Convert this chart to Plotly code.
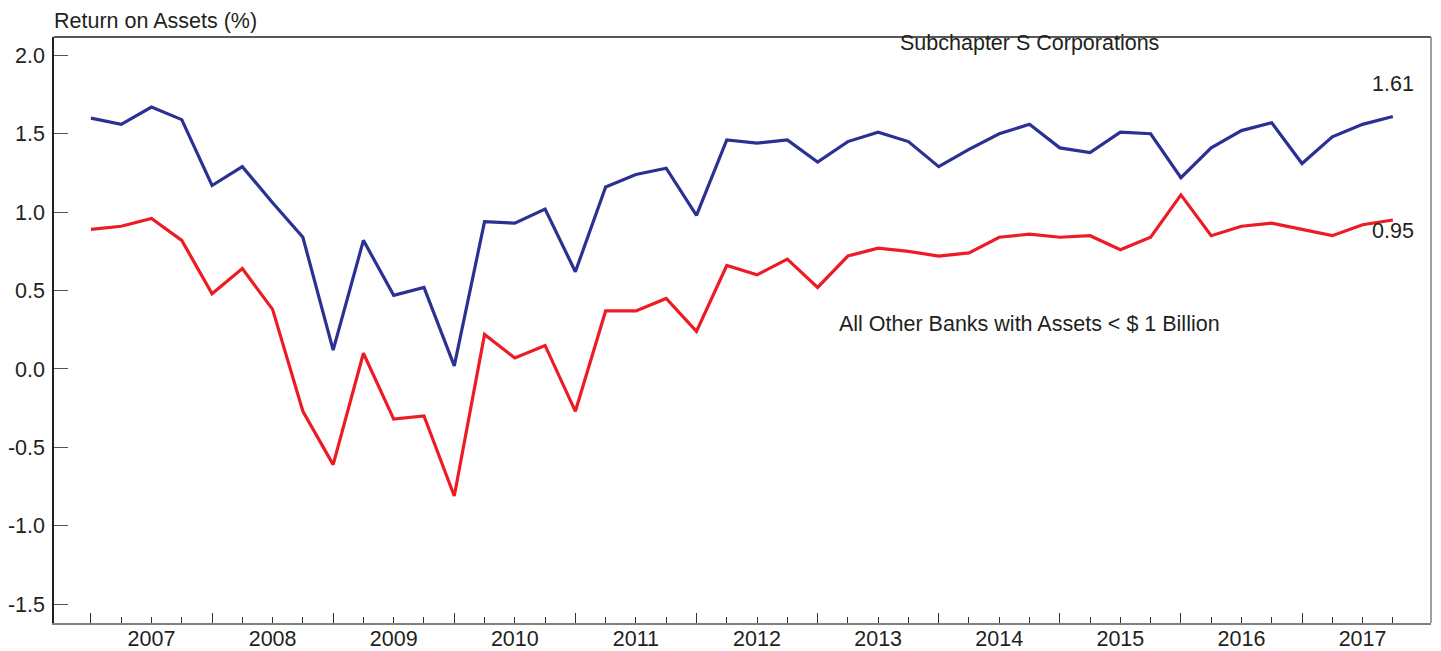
import plotly.graph_objects as go

years = list(range(2007, 2018))
quarters = [f"{y}Q{q}" for y in years for q in range(1, 5)]

s_corp_roa = [1.60, 1.56, 1.67, 1.59, 1.17, 1.29, 1.06, 0.84, 0.12, 0.82, 0.47,
              0.52, 0.02, 0.94, 0.93, 1.02, 0.62, 1.16, 1.24, 1.28, 0.98, 1.46,
              1.44, 1.46, 1.32, 1.45, 1.51, 1.45, 1.29, 1.40, 1.50, 1.56, 1.41,
              1.38, 1.51, 1.50, 1.22, 1.41, 1.52, 1.57, 1.31, 1.48, 1.56, 1.61]

other_roa = [0.89, 0.91, 0.96, 0.82, 0.48, 0.64, 0.38, -0.27, -0.61, 0.10, -0.32,
             -0.30, -0.81, 0.22, 0.07, 0.15, -0.27, 0.37, 0.37, 0.45, 0.24, 0.66,
             0.60, 0.70, 0.52, 0.72, 0.77, 0.75, 0.72, 0.74, 0.84, 0.86, 0.84,
             0.85, 0.76, 0.84, 1.11, 0.85, 0.91, 0.93, 0.89, 0.85, 0.92, 0.95]

y_ticks = [2.0, 1.5, 1.0, 0.5, 0.0, -0.5, -1.0, -1.5]
y_tick_text = ["2.0", "1.5", "1.0", "0.5", "0.0", "-0.5", "-1.0", "-1.5"]

x_pos = list(range(len(quarters)))
year_start_pos = [quarters.index(f"{y}Q1") for y in years]
year_mid_pos = [p + 2 for p in year_start_pos]

FONT = "Arial, Liberation Sans, Helvetica, sans-serif"
FS = 21.5
TXT = "#231f20"
BLUE = "#2b3192"
RED = "#ed1c24"

fig = go.Figure()
fig.add_trace(go.Scatter(x=x_pos, y=other_roa, mode="lines", name="All Other Banks",
                         text=quarters, line=dict(color=RED, width=3.2)))
fig.add_trace(go.Scatter(x=x_pos, y=s_corp_roa, mode="lines", name="Subchapter S Corporations",
                         text=quarters, line=dict(color=BLUE, width=3.2)))
# invisible trace to anchor overlay axis for year labels
fig.add_trace(go.Scatter(x=x_pos, y=s_corp_roa, mode="lines", xaxis="x2",
                         line=dict(width=0), hoverinfo="skip", showlegend=False, opacity=0))

xr = [-1.22, 44.26]
fig.update_layout(
    width=1433, height=643,
    margin=dict(l=46, r=10, t=29, b=28, autoexpand=False),
    paper_bgcolor="white", plot_bgcolor="white",
    showlegend=False,
    font=dict(family=FONT, size=FS, color=TXT),
    xaxis=dict(range=xr, showgrid=False, zeroline=False, automargin=False,
               showline=True, linecolor="#808080", linewidth=1.5,
               tickmode="array", tickvals=year_start_pos, ticks="inside",
               ticklen=10, tickwidth=1.2, tickcolor="#333",
               showticklabels=False,
               minor=dict(tickmode="array", tickvals=x_pos, ticks="inside",
                         ticklen=6, tickwidth=1.2, tickcolor="#333")),
    xaxis2=dict(range=xr, overlaying="x", side="bottom", showgrid=False,
                zeroline=False, showline=False, tickmode="array", automargin=False,
                tickvals=year_mid_pos, ticktext=[str(y) for y in years],
                ticks="", ticklabelstandoff=0,
                tickfont=dict(family=FONT, size=FS, color=TXT)),
    yaxis=dict(range=[-1.62, 2.117], showgrid=False, zeroline=False, automargin=False,
               showline=True, linecolor="#231f20", linewidth=1.5,
               tickmode="array", tickvals=y_ticks, ticktext=y_tick_text,
               ticks="inside", ticklen=14, tickwidth=1.2, tickcolor="#555",
               ticklabelstandoff=3,
               tickfont=dict(family=FONT, size=FS, color=TXT)),
)

# top and right frame lines
fig.add_shape(type="line", xref="paper", yref="paper", x0=0, x1=1, y0=1, y1=1,
              line=dict(color="#231f20", width=1.5))
fig.add_shape(type="line", xref="paper", yref="paper", x0=1, x1=1, y0=0, y1=1,
              line=dict(color="#808080", width=1.5))

fig.add_annotation(text="Return on Assets (%)", xref="paper", yref="paper",
                   x=0, y=1, xanchor="left", yanchor="bottom", yshift=2, xshift=-2,
                   showarrow=False, font=dict(family=FONT, size=FS, color=TXT))
fig.add_annotation(text="Subchapter S Corporations", x=31.0, y=2.08,
                   xanchor="center", yanchor="middle", showarrow=False,
                   font=dict(family=FONT, size=FS, color=TXT))
fig.add_annotation(text="All Other Banks with Assets < $ 1 Billion", x=31.0, y=0.287,
                   xanchor="center", yanchor="middle", showarrow=False,
                   font=dict(family=FONT, size=FS, color=TXT))
fig.add_annotation(text=f"{s_corp_roa[-1]:.2f}", x=x_pos[-1], y=s_corp_roa[-1],
                   yshift=33, xanchor="center", yanchor="middle", showarrow=False,
                   font=dict(family=FONT, size=FS, color=TXT))
fig.add_annotation(text=f"{other_roa[-1]:.2f}", x=x_pos[-1], y=other_roa[-1],
                   yshift=-11, xanchor="center", yanchor="middle", showarrow=False,
                   font=dict(family=FONT, size=FS, color=TXT))

fig.write_html("out.html")
